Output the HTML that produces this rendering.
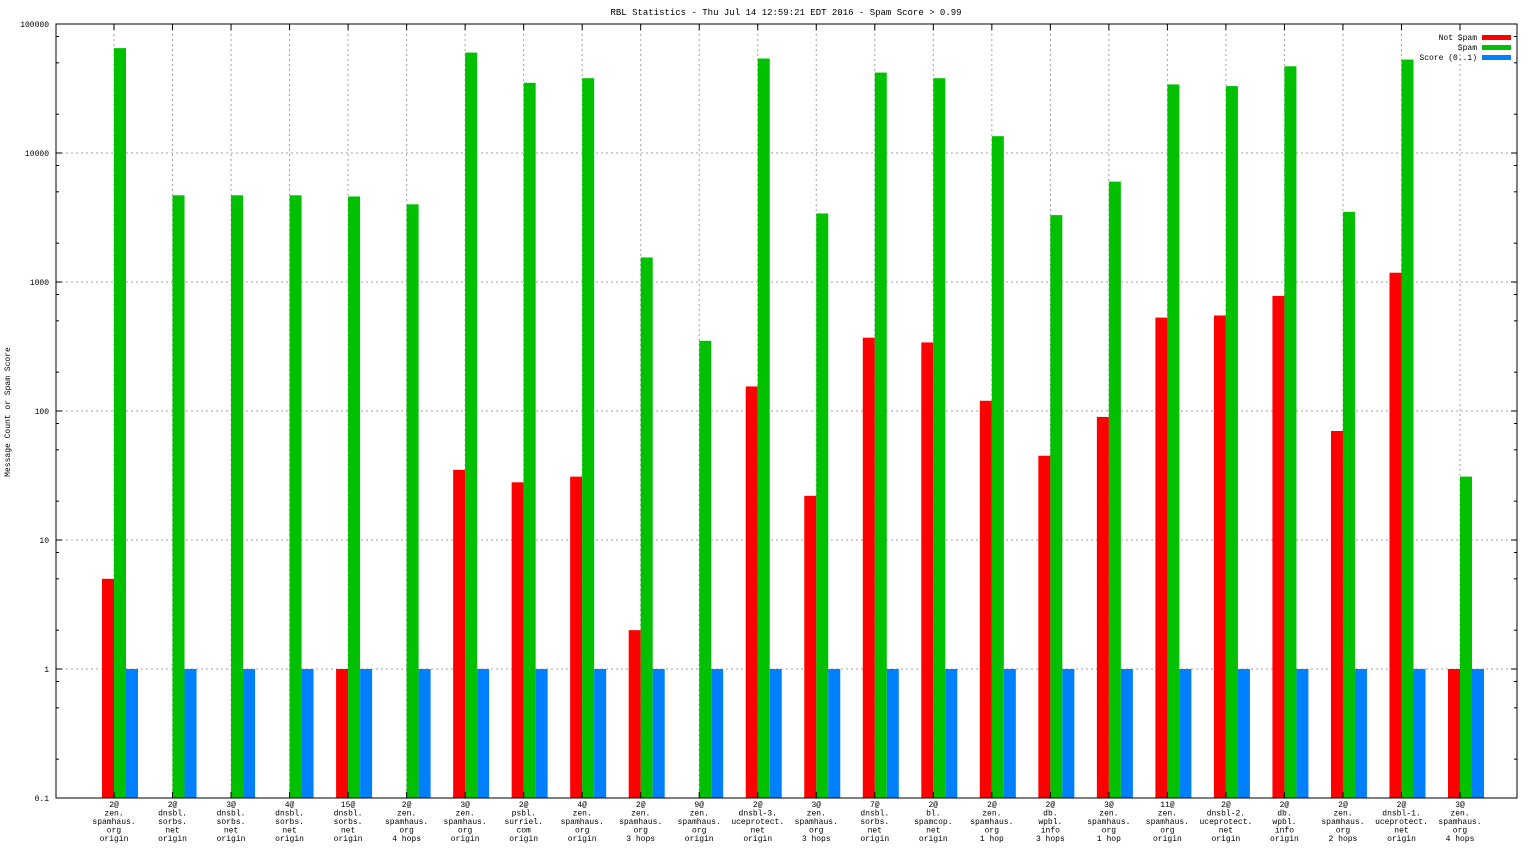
<!DOCTYPE html>
<html><head><meta charset="utf-8"><style>
body{margin:0;background:#fff}
svg{display:block;font-family:"Liberation Mono","DejaVu Sans Mono",monospace}
</style></head><body>
<svg id="chart" width="1536" height="864" xmlns="http://www.w3.org/2000/svg">
<text x="786" y="15" font-size="9" text-anchor="middle">RBL Statistics - Thu Jul 14 12:59:21 EDT 2016 - Spam Score &gt; 0.99</text>
<text transform="translate(10,412) rotate(-90)" font-size="8" text-anchor="middle">Message Count or Spam Score</text>
<g id="grid"></g><g id="bars"></g><g id="axes"></g>
<g font-size="8" text-anchor="end">
<text x="1477" y="40">Not Spam</text>
<rect x="1482" y="35" width="29" height="5" fill="#ff0000"/>
<text x="1477" y="50">Spam</text>
<rect x="1482" y="45" width="29" height="5" fill="#00c000"/>
<text x="1477" y="60">Score (0..1)</text>
<rect x="1482" y="55" width="29" height="5" fill="#0080ff"/>
</g>
</svg>
<script>
const categories=[
["2@","zen.","spamhaus.","org","origin"],["2@","dnsbl.","sorbs.","net","origin"],["3@","dnsbl.","sorbs.","net","origin"],["4@","dnsbl.","sorbs.","net","origin"],["15@","dnsbl.","sorbs.","net","origin"],["2@","zen.","spamhaus.","org","4 hops"],["3@","zen.","spamhaus.","org","origin"],["2@","psbl.","surriel.","com","origin"],["4@","zen.","spamhaus.","org","origin"],["2@","zen.","spamhaus.","org","3 hops"],["9@","zen.","spamhaus.","org","origin"],["2@","dnsbl-3.","uceprotect.","net","origin"],["3@","zen.","spamhaus.","org","3 hops"],["7@","dnsbl.","sorbs.","net","origin"],["2@","bl.","spamcop.","net","origin"],["2@","zen.","spamhaus.","org","1 hop"],["2@","db.","wpbl.","info","3 hops"],["3@","zen.","spamhaus.","org","1 hop"],["11@","zen.","spamhaus.","org","origin"],["2@","dnsbl-2.","uceprotect.","net","origin"],["2@","db.","wpbl.","info","origin"],["2@","zen.","spamhaus.","org","2 hops"],["2@","dnsbl-1.","uceprotect.","net","origin"],["3@","zen.","spamhaus.","org","4 hops"]];
const notSpam=[5,null,null,null,1,null,35,28,31,2,null,155,22,370,340,120,45,90,530,550,780,70,1180,1];
const spam=[65000,4700,4700,4700,4600,4000,60000,35000,38000,1550,350,54000,3400,42000,38000,13500,3300,6000,34000,33000,47000,3500,53000,31];
const score=[1,1,1,1,1,1,1,1,1,1,1,1,1,1,1,1,1,1,1,1,1,1,1,1];
const yTicks=["0.1","1","10","100","1000","10000","100000"];

const NS="http://www.w3.org/2000/svg";
const L=56,R=1517,T=24,B=798;
const xs=i=>114+i*(1460-114)/23;
const ys=v=>T+(5-Math.log10(v))*(B-T)/6;
function mk(tag,attrs,parent){const e=document.createElementNS(NS,tag);for(const k in attrs)e.setAttribute(k,attrs[k]);parent.appendChild(e);return e;}
const grid=document.getElementById('grid'),bars=document.getElementById('bars'),axes=document.getElementById('axes');
yTicks.forEach(t=>{
  const y=ys(parseFloat(t));
  if(y>T+1&&y<B-1){const g=mk('line',{x1:L,x2:R,y1:y,y2:y,stroke:'#a0a0a0','stroke-dasharray':'2,3'},grid);
  
  }
  const tl=mk('line',{x1:L,x2:L+6,y1:y,y2:y,stroke:'#000'},axes);
  
  
  const tr=mk('line',{x1:R-6,x2:R,y1:y,y2:y,stroke:'#000'},axes);
  
  
  const tx=mk('text',{x:L-7,y:y+3,'font-size':'8','text-anchor':'end'},axes);
  tx.textContent=t;
  
  
  const base=parseFloat(t);
  if(base<100000)[2,5,8].forEach(m=>{const yy=ys(base*m);
    const mt=mk('line',{x1:L,x2:L+3,y1:yy,y2:yy,stroke:'#000'},axes);
    
    
    const mr=mk('line',{x1:R-3,x2:R,y1:yy,y2:yy,stroke:'#000'},axes);
    
    });
});
categories.forEach((c,i)=>{
  const x=xs(i);
  const g=mk('line',{x1:x,x2:x,y1:T,y2:B,stroke:'#a0a0a0','stroke-dasharray':'2,3'},grid);
  
  
  [[T,T+6],[B-6,B]].forEach(p=>{const tk=mk('line',{x1:x,x2:x,y1:p[0],y2:p[1],stroke:'#000'},axes);
    
    });
  const tx=mk('text',{'font-size':'8','text-anchor':'middle'},axes);
  
  
  c.forEach((line,k)=>{const ts=mk('tspan',{x:x,y:807+k*8.5},tx);ts.textContent=line;});
  const series=[[notSpam,'#ff0000',-12,'bar-not-spam'],[spam,'#00c000',0,'bar-spam'],[score,'#0080ff',12,'bar-score']];
  series.forEach(s=>{const v=s[0][i];if(v==null)return;const y=ys(v);
    const r=mk('rect',{x:x+s[2],y:y,width:12,height:B-y,fill:s[1]},bars);
    
    });
});
const fr=mk('rect',{x:L,y:T,width:R-L,height:B-T,fill:'none',stroke:'#000'},axes);


</script>
</body></html>
